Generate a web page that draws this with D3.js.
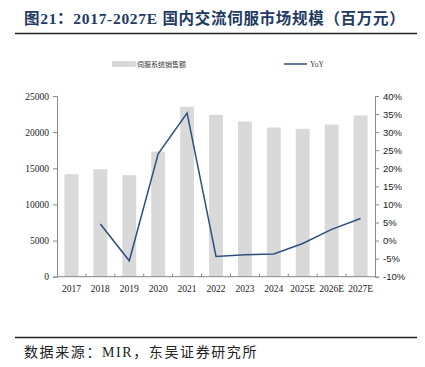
<!DOCTYPE html>
<html>
<head>
<meta charset="utf-8">
<script src="https://cdn.jsdelivr.net/npm/d3@7"></script>
<style>
  body { margin: 0; background: #fff; }
</style>
</head>
<body>
<div id="chart"></div>
<script>
// data
const years = ["2017", "2018", "2019", "2020", "2021", "2022", "2023", "2024", "2025E", "2026E", "2027E"];
const sales = [14180, 14870, 14050, 17310, 23500, 22400, 21470, 20640, 20460, 21050, 22300];
const yoy = [null, 4.6, -5.6, 24.0, 35.3, -4.4, -3.9, -3.7, -0.8, 3.1, 6.1];
const leftTicks = [0, 5000, 10000, 15000, 20000, 25000];
const rightTicks = [-10, -5, 0, 5, 10, 15, 20, 25, 30, 35, 40];

const W = 425, H = 367;
const serif = "'Liberation Serif', 'Times New Roman', 'Noto Sans CJK SC', serif";
const cjk = "'Liberation Serif', 'Noto Sans CJK SC', serif";

svg = d3.select('#chart')
    .append('svg')
    .attr("width", W)
    .attr("height", H);

// title + rules
svg.append("text")
    .text("图21：2017-2027E 国内交流伺服市场规模（百万元）")
    .attr("x", 24)
    .attr("y", 24)
    .style("font-family", cjk)
    .style("font-size", "15.5px")
    .style("letter-spacing", "0.7px")
    .style("font-weight", "bold")
    .style("fill", "#1f3a64");

svg.append("line")
    .attr("x1", 15).attr("x2", 417)
    .attr("y1", 33.5).attr("y2", 33.5)
    .style("stroke", "#222")
    .style("stroke-width", 1.6);

svg.append("line")
    .attr("x1", 15).attr("x2", 417)
    .attr("y1", 337.5).attr("y2", 337.5)
    .style("stroke", "#222")
    .style("stroke-width", 1.3);

svg.append("text")
    .text("数据来源：MIR，东吴证券研究所")
    .attr("x", 24)
    .attr("y", 357)
    .style("font-family", cjk)
    .style("font-size", "14px")
    .style("letter-spacing", "1.6px")
    .style("fill", "#222");

// scales
x = d3.scaleBand()
    .domain(years)
    .range([57, 375])
    .paddingInner(0.52)
    .paddingOuter(0.26);

yL = d3.scaleLinear().domain([0, 25000]).range([276.7, 96]);
yR = d3.scaleLinear().domain([-10, 40]).range([276.7, 96]);

// bars
svg.append("g")
    .selectAll("rect")
    .data(years)
    .join("rect")
    .attr("x", d => x(d))
    .attr("width", x.bandwidth())
    .attr("y", (d, i) => yL(sales[i]))
    .attr("height", (d, i) => yL(0) - yL(sales[i]))
    .style("fill", "#d9d9d9");

// left axis
gL = svg.append("g")
    .attr("transform", "translate(57,0)")
    .call(d3.axisLeft(yL).tickValues(leftTicks).tickSize(4).tickPadding(4).tickFormat(d3.format("d")));
gL.selectAll("text").style("font-family", serif).style("font-size", "9.5px").style("fill", "#222");

// right axis
gR = svg.append("g")
    .attr("transform", "translate(375,0)")
    .call(d3.axisRight(yR).tickValues(rightTicks).tickSize(4).tickPadding(4).tickFormat(d => d + "%"));
gR.selectAll("text").style("font-family", "'Liberation Sans', Arial, sans-serif").style("font-size", "9.5px").style("fill", "#222");

// bottom axis
gB = svg.append("g")
    .attr("transform", "translate(0,276.7)");
gB.append("line")
    .attr("x1", 57).attr("x2", 375)
    .style("stroke", "#888");
gB.selectAll("line.tk")
    .data(years.slice(1))
    .join("line")
    .attr("class", "tk")
    .attr("x1", d => x(d) - x.step() * x.paddingInner() / 2)
    .attr("x2", d => x(d) - x.step() * x.paddingInner() / 2)
    .attr("y1", 0).attr("y2", -3)
    .style("stroke", "#888");
gB.selectAll("text")
    .data(years)
    .join("text")
    .text(d => d)
    .attr("x", d => x(d) + x.bandwidth() / 2)
    .attr("y", 15)
    .attr("text-anchor", "middle")
    .style("font-family", serif)
    .style("font-size", "9.5px")
    .style("fill", "#222");

[gL, gR].forEach(g => {
    g.select(".domain").style("stroke", "#888");
    g.selectAll(".tick line").style("stroke", "#888");
});

// YoY line
line = d3.line()
    .defined(d => d[1] !== null)
    .x(d => x(d[0]) + x.bandwidth() / 2)
    .y(d => yR(d[1]));

svg.append("path")
    .datum(years.map((d, i) => [d, yoy[i]]))
    .attr("d", line)
    .style("fill", "none")
    .style("stroke", "#2e5080")
    .style("stroke-width", 1.5);

// legend
svg.append("rect")
    .attr("x", 112).attr("y", 61)
    .attr("width", 24).attr("height", 6)
    .style("fill", "#d9d9d9");
svg.append("text")
    .text("伺服系统销售额")
    .attr("x", 137).attr("y", 67)
    .style("font-family", cjk)
    .style("font-size", "7px")
    .style("fill", "#333");
svg.append("line")
    .attr("x1", 284).attr("x2", 307)
    .attr("y1", 64).attr("y2", 64)
    .style("stroke", "#2e5080")
    .style("stroke-width", 1.5);
svg.append("text")
    .text("YoY")
    .attr("x", 310).attr("y", 67)
    .style("font-family", serif)
    .style("font-size", "7.5px")
    .style("fill", "#333");
</script>
</body>
</html>
